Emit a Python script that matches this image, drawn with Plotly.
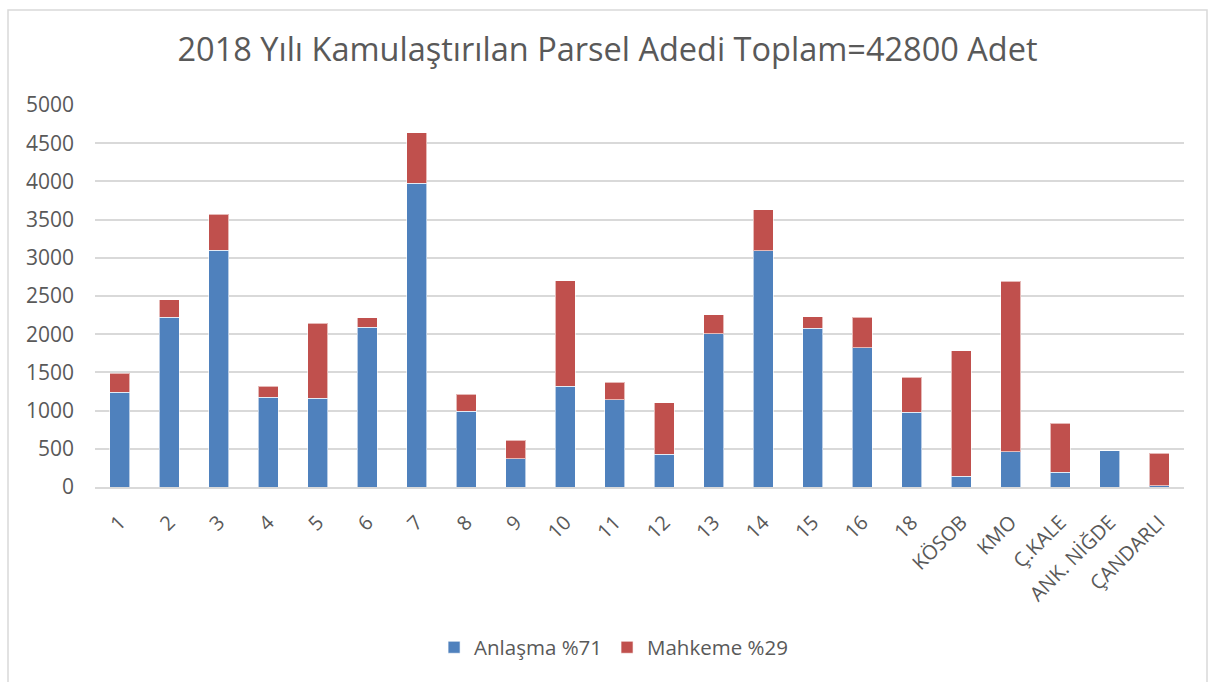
import plotly.graph_objects as go

categories = ["1", "2", "3", "4", "5", "6", "7", "8", "9", "10", "11", "12", "13", "14",
              "15", "16", "18", "KÖSOB", "KMO", "Ç.KALE", "ANK. NİĞDE", "ÇANDARLI"]
anlasma = [1237, 2223, 3100, 1177, 1164, 2093, 3976, 989, 370, 1321, 1142, 431, 2009, 3095,
           2079, 1822, 981, 139, 462, 196, 475, 15]
mahkeme = [249, 227, 470, 144, 981, 125, 658, 222, 245, 1377, 231, 671, 244, 536,
           152, 401, 457, 1644, 2228, 636, 0, 425]
series_names = ["Anlaşma %71", "Mahkeme %29"]
title_text = "2018 Yılı Kamulaştırılan Parsel Adedi Toplam=42800 Adet"
y_ticks = [0, 500, 1000, 1500, 2000, 2500, 3000, 3500, 4000, 4500, 5000]

FONT = "Open Sans"
GREY = "#595959"

fig = go.Figure()
fig.add_trace(go.Bar(x=categories, y=anlasma, name=series_names[0],
                     marker=dict(color="#4F81BD", line=dict(color="rgba(255,255,255,0.6)", width=1))))
fig.add_trace(go.Bar(x=categories, y=mahkeme, name=series_names[1],
                     marker=dict(color="#C0504D", line=dict(color="rgba(255,255,255,0.6)", width=1))))

fig.update_layout(
    barmode="stack",
    bargap=0.59,
    width=1215, height=682,
    margin=dict(l=95, r=31, t=105, b=195, autoexpand=False),
    paper_bgcolor="white", plot_bgcolor="white",
    font=dict(family=FONT, color=GREY),
    title=dict(text=title_text, x=0.5, xref="container", xanchor="center",
               y=1 - 50 / 682, yref="container", yanchor="middle",
               font=dict(family=FONT, size=32.5, color=GREY)),
    legend=dict(orientation="h", x=0.505, xref="container", xanchor="center",
                y=-0.42, yanchor="middle",
                font=dict(family=FONT, size=20.5, color=GREY), traceorder="normal",
                itemwidth=30),
    showlegend=True,
    yaxis=dict(range=[0, 5000], tickvals=y_ticks, showgrid=True, gridcolor="#D9D9D9",
               gridwidth=1.5, zeroline=False, showline=False, ticks="",
               ticklabelstandoff=20,
               tickfont=dict(family=FONT, size=21, color=GREY)),
    xaxis=dict(type="category", tickangle=-45, showline=True, linecolor="#D9D9D9",
               linewidth=1.5, ticks="", ticklabelstandoff=14,
               tickfont=dict(family=FONT, size=20, color=GREY)),
)

fig.add_shape(type="rect", xref="paper", yref="paper",
              x0=(8 - 95) / 1089, x1=(1207 - 95) / 1089,
              y0=(487 - 700) / 382, y1=(487 - 10) / 382,
              line=dict(color="#D9D9D9", width=1.5), fillcolor="rgba(0,0,0,0)", layer="below")

fig.write_html("out.html", config={"displayModeBar": False},
               post_script="document.body.style.margin='0';document.body.style.overflow='hidden';")
